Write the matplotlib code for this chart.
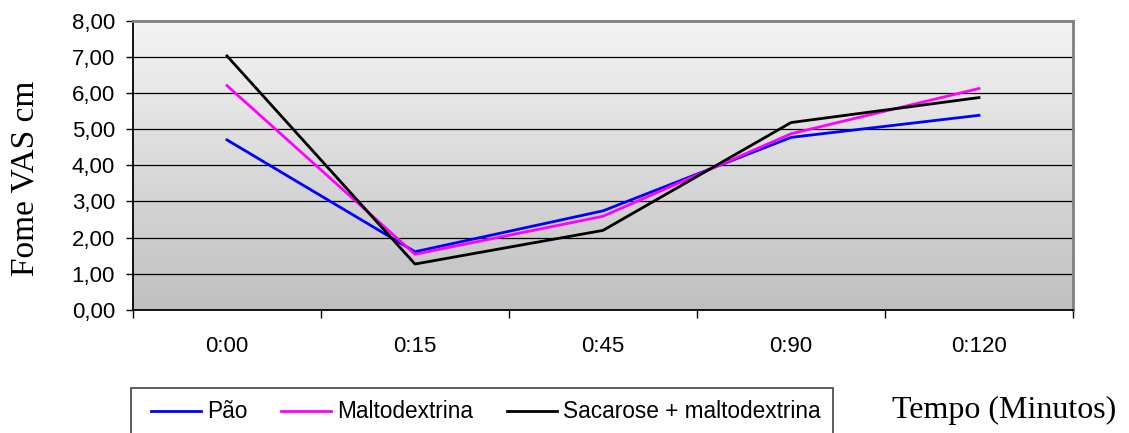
import numpy as np
import matplotlib
matplotlib.use("Agg")
import matplotlib.pyplot as plt
from matplotlib.patches import Rectangle

# Hunger scores (VAS, cm) over time for three test meals
tempos = ["0:00", "0:15", "0:45", "0:90", "0:120"]
pao = [4.70, 1.61, 2.74, 4.77, 5.38]
maltodextrina = [6.20, 1.54, 2.59, 4.87, 6.12]
sacarose_malto = [7.02, 1.27, 2.20, 5.18, 5.87]
series_labels = ["Pão", "Maltodextrina", "Sacarose + maltodextrina"]
y_ticks = [0, 1, 2, 3, 4, 5, 6, 7, 8]

W, H = 1129, 433
fig = plt.figure(figsize=(W / 100, H / 100), dpi=100)
fig.patch.set_facecolor("white")

ax = fig.add_axes([133 / W, 1 - 310 / H, (1073 - 133) / W, (310 - 20.5) / H])

# vertical grey gradient background
grad = np.linspace(0, 1, 256).reshape(-1, 1)
ax.imshow(grad, extent=(0, 1, 0, 1), transform=ax.transAxes, aspect="auto",
          cmap=matplotlib.colors.LinearSegmentedColormap.from_list(
              "bg", ["#c0c0c0", "#f4f4f4"]), origin="lower", zorder=0)

x = np.arange(len(tempos))
for yv in y_ticks[1:-1]:
    ax.axhline(yv, color="black", lw=0.9, zorder=1)

line_colors = ["#0000ff", "#ff00ff", "#000000"]
handles = []
for vals, col, lab in zip([pao, maltodextrina, sacarose_malto], line_colors, series_labels):
    h, = ax.plot(x, vals, color=col, lw=2.0, zorder=3, label=lab)
    handles.append(h)

ax.set_xlim(-0.5, len(tempos) - 0.5)
ax.set_ylim(0, 8)

# category boundaries carry the tick marks, labels sit at the centres
ax.set_xticks(np.arange(len(tempos) + 1) - 0.5)
ax.set_xticklabels([])
ax.set_xticks(x, minor=True)
ax.set_xticklabels(tempos, minor=True, fontsize=16, family="Liberation Sans")
ax.tick_params(axis="x", which="major", length=6, width=1, color="black", direction="out")
ax.tick_params(axis="x", which="minor", length=0, pad=18.5)

ax.set_yticks(y_ticks)
ax.set_yticklabels([f"{v:.2f}".replace(".", ",") for v in y_ticks],
                   fontsize=16, family="Liberation Sans")
ax.tick_params(axis="y", length=5, width=1, color="black", direction="out", pad=8)

for s in ["left", "bottom"]:
    ax.spines[s].set_color("black")
    ax.spines[s].set_linewidth(1.3)
for s in ["top", "right"]:
    ax.spines[s].set_color("#808080")
    ax.spines[s].set_linewidth(2)

fig.text(25 / W, 1 - 178 / H, "Fome VAS cm", rotation=90, ha="center", va="center",
         fontsize=24, family="Liberation Serif")
fig.text(892 / W, 1 - 410 / H, "Tempo (Minutos)", ha="left", va="center",
         fontsize=23, family="Liberation Serif")

# legend box, open at the bottom edge of the figure
fig.patches.append(Rectangle((131 / W, 1 - 440 / H), (833 - 131) / W, (440 - 388) / H,
                             transform=fig.transFigure, facecolor="white",
                             edgecolor="#505050", lw=1.3, zorder=1))
leg = fig.legend(handles=handles, labels=series_labels, loc="center left",
                 bbox_to_anchor=(151 / W, 1 - 412 / H), ncol=3, frameon=False,
                 prop={"family": "Liberation Sans", "size": 16.3},
                 handlelength=2.2, handletextpad=0.27, columnspacing=1.5,
                 borderpad=0, borderaxespad=0)
leg.set_zorder(2)

fig.savefig("out.png", dpi=100)
